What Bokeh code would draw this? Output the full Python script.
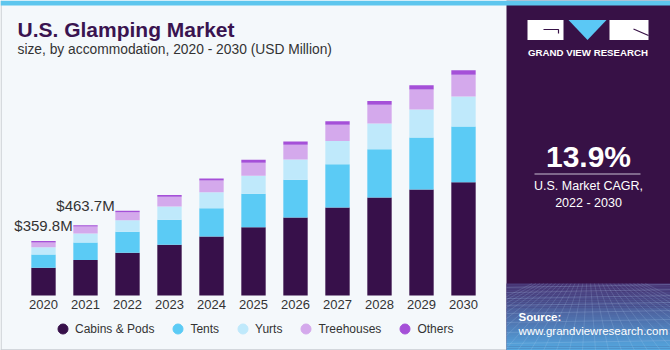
import numpy as np
from bokeh.plotting import figure
from bokeh.models import ColumnDataSource, Legend, LegendItem, Range1d
from bokeh.embed import file_html
from bokeh.resources import INLINE
from bokeh.core.properties import value

# ---------------- data ----------------
years = [2020, 2021, 2022, 2023, 2024, 2025, 2026, 2027, 2028, 2029, 2030]
cabins_pods = [183, 235, 282, 335, 389, 451, 515, 581, 647, 700, 748]
tents = [88, 114, 139, 165, 187, 220, 249, 286, 319, 343, 368]
yurts = [48, 61, 75, 88, 106, 119, 134, 152, 170, 185, 198]
treehouses = [31, 45, 53, 64, 77, 86, 97, 108, 123, 132, 143]
others = [9.8, 8.7, 11, 11, 13, 20, 22, 23, 25, 27, 30]
series_names = ["Cabins & Pods", "Tents", "Yurts", "Treehouses", "Others"]
year_labels = ["2020", "2021", "2022", "2023", "2024", "2025", "2026", "2027", "2028", "2029", "2030"]
label_years = [2020, 2021]
label_texts = ["$359.8M", "$463.7M"]
cagr_text = "13.9%"

# ---------------- styles ----------------
FONT = "Liberation Sans"
BG = "#f4f8fb"
STRIPE = "#5dc6ee"
PANEL = "#371146"
TITLE_C = "#3a1450"
TEXT_C = "#333333"
colors = ["#37104a", "#5bcbf5", "#bfe9fb", "#d4a9ec", "#a550d8"]
keys = ["cabins", "tents", "yurts", "treehouses", "others"]

W, H = 670, 350
BASE_PX = 295          # pixel row of the bars' baseline
PX_PER_YEAR = 42.0
SCALE = 6.6            # USD million per pixel
X0 = 2020 - 43 / PX_PER_YEAR
X1 = X0 + W / PX_PER_YEAR
Y0 = -(H - BASE_PX) * SCALE
Y1 = BASE_PX * SCALE
PANEL_L = 506


def dx(px):
    return X0 + np.asarray(px, dtype=float) / PX_PER_YEAR


def dy(py):
    return (BASE_PX - np.asarray(py, dtype=float)) * SCALE


p = figure(width=W, height=H, x_range=Range1d(X0, X1), y_range=Range1d(Y0, Y1),
           toolbar_location=None, output_backend="svg",
           x_axis_location=None, y_axis_location=None,
           min_border_left=0, min_border_right=0, min_border_top=0, min_border_bottom=0,
           outline_line_color=None, background_fill_color=BG, border_fill_color=BG)
p.grid.visible = False

# chart frame borders (left / bottom grey)
p.quad(left=[dx(0)], right=[dx(1.2)], bottom=[dy(350)], top=[dy(0)], color="#c9cdd2", line_color=None)
p.quad(left=[dx(0)], right=[dx(PANEL_L)], bottom=[dy(350)], top=[dy(348.8)], color="#c9cdd2", line_color=None)

# stacked bars
source = ColumnDataSource(dict(year=years, cabins=cabins_pods, tents=tents, yurts=yurts,
                               treehouses=treehouses, others=others))
p.vbar_stack(keys, x="year", width=0.58, color=colors, line_color=None, source=source)

# year labels (category axis)
p.text(x=years, y=[dy(303.5)] * len(years), text=year_labels, text_align="center", text_baseline="middle",
       text_font=value(FONT), text_font_size="13px", text_color=TEXT_C)

# value labels above first two bars
totals = [cabins_pods[i] + tents[i] + yurts[i] + treehouses[i] + others[i] for i in range(len(years))]
lab_src = ColumnDataSource(dict(x=label_years, y=[totals[years.index(y)] for y in label_years],
                                text=label_texts, off=[-15.5, -19.5]))
p.text(x="x", y="y", text="text", y_offset="off", source=lab_src, text_align="center",
       text_baseline="middle", text_font=value(FONT), text_font_size="15px", text_color=TEXT_C)

# titles
p.text(x=[dx(17)], y=[dy(28.5)], text=["U.S. Glamping Market"], text_font=value(FONT),
       text_font_size="21px", text_font_style="bold", text_color=TITLE_C, text_baseline="middle")
p.text(x=[dx(17)], y=[dy(48.5)], text=["size, by accommodation, 2020 - 2030 (USD Million)"],
       text_font=value(FONT), text_font_size="13.8px", text_color=TEXT_C, text_baseline="middle")

# legend (marker renderers placed outside the visible range)
dummies = [p.scatter(x=[X0 - 50], y=[0], marker="circle", size=10, color=c) for c in colors]
legend = Legend(items=[LegendItem(label=n, renderers=[r]) for n, r in zip(series_names, dummies)],
                orientation="horizontal", location=(50, 9), glyph_width=25, glyph_height=25,
                label_standoff=0, spacing=11, padding=0, margin=0,
                label_text_font=FONT, label_text_font_size="12px", label_text_color=TEXT_C,
                background_fill_alpha=0, border_line_color=None)
p.add_layout(legend)

# ---------------- right panel ----------------
p.quad(left=[dx(PANEL_L)], right=[dx(670)], top=[dy(0)], bottom=[dy(350)], color=PANEL, line_color=None)

# bottom gradient band
n_steps = 34
ys = np.linspace(283, 350, n_steps + 1)
c0 = np.array([0x4a, 0x3a, 0x7a])
c1 = np.array([0x55, 0xa8, 0xe0])
fills = []
for i in range(n_steps):
    t = (i / (n_steps - 1)) ** 1.1
    c = (c0 * (1 - t) + c1 * t).astype(int)
    fills.append("#%02x%02x%02x" % tuple(c))
p.quad(left=dx(PANEL_L), right=dx(670), top=dy(ys[:-1]), bottom=dy(ys[1:] + 0.3), fill_color=fills,
       line_color=None)

# perspective grid (clipped to the panel)
hy = np.array([287, 292, 298, 305, 313, 322, 332, 343])
p.segment(x0=[dx(PANEL_L)] * len(hy), y0=dy(hy), x1=[dx(670)] * len(hy), y1=dy(hy - 3),
          line_color="#b8d8f5", line_alpha=0.25, line_width=0.8)
bx = np.arange(400, 780, 13).astype(float)
tx = 588 + (bx - 588) * 0.3
ex = np.clip(bx, PANEL_L, 670)
frac = np.where(bx != tx, (ex - tx) / np.where(bx != tx, bx - tx, 1.0), 1.0)
ey = 283 + 67 * frac
p.segment(x0=dx(tx), y0=[dy(283)] * len(bx), x1=dx(ex), y1=dy(ey),
          line_color="#b8d8f5", line_alpha=0.22, line_width=0.8)

# top stripe (whole width)
p.quad(left=[dx(0)], right=[dx(670)], top=[dy(0)], bottom=[dy(5)], color=STRIPE, line_color=None)

# logo
p.quad(left=[dx(527), dx(609)], right=[dx(563), dx(648)], top=[dy(19.5)] * 2, bottom=[dy(39.5)] * 2,
       color="white", line_color=None)
p.patch(x=[dx(568), dx(606), dx(587)], y=[dy(19.5), dy(19.5), dy(39.5)], color="#5bc8f5", line_color=None)
p.line(x=[dx(543), dx(558), dx(558)], y=[dy(29), dy(29), dy(33)], line_color=PANEL, line_width=1.2)
p.line(x=[dx(633), dx(648)], y=[dy(28.5), dy(35)], line_color=PANEL, line_width=1.2)
p.text(x=[dx(587.5)], y=[dy(51.5)], text=["GRAND VIEW RESEARCH"], text_align="center", text_baseline="middle",
       text_font=value(FONT), text_font_size="9.7px", text_font_style="bold", text_color="white")

# CAGR
p.text(x=[dx(588)], y=[dy(155.5)], text=[cagr_text], text_align="center", text_baseline="middle",
       text_font=value(FONT), text_font_size="30px", text_font_style="bold", text_color="white")
p.segment(x0=[dx(534)], y0=[dy(173.5)], x1=[dx(640)], y1=[dy(173.5)], line_color="#c9c0d2", line_width=1)
p.text(x=[dx(588)] * 2, y=[dy(185.5), dy(202)], text=["U.S. Market CAGR,", "2022 - 2030"], text_align="center",
       text_baseline="middle", text_font=value(FONT), text_font_size="12.5px", text_color="white")

# source
p.text(x=[dx(518)], y=[dy(316)], text=["Source:"], text_baseline="middle", text_font=value(FONT),
       text_font_size="11.5px", text_font_style="bold", text_color="white")
p.text(x=[dx(518)], y=[dy(330.5)], text=["www.grandviewresearch.com"], text_baseline="middle",
       text_font=value(FONT), text_font_size="11.5px", text_color="white")

open("out.html", "w").write(file_html(p, INLINE))
